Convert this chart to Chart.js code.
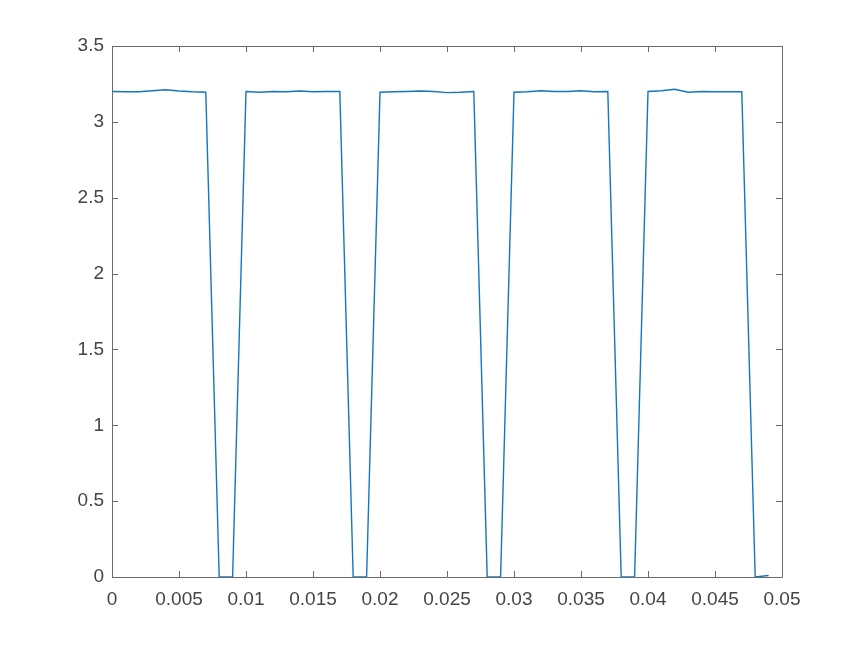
<!DOCTYPE html>
<html lang="en">
<head>
  <meta charset="UTF-8" />
  <title>Signal</title>
  <script src="https://cdn.jsdelivr.net/npm/chart.js@4.4.0/dist/chart.umd.min.js"></script>
  <style>
    html, body { margin: 0; padding: 0; background: #fff; }
    #wrap { width: 865px; height: 649px; }
  </style>
</head>
<body>
  <div id="wrap"><canvas id="myChart"></canvas></div>

  <script>
    // time samples (s)
    const times = [
      0, 0.001, 0.002, 0.003, 0.004, 0.005, 0.006, 0.007, 0.008, 0.009,
      0.010, 0.011, 0.012, 0.013, 0.014, 0.015, 0.016, 0.017, 0.018, 0.019,
      0.020, 0.021, 0.022, 0.023, 0.024, 0.025, 0.026, 0.027, 0.028, 0.029,
      0.030, 0.031, 0.032, 0.033, 0.034, 0.035, 0.036, 0.037, 0.038, 0.039,
      0.040, 0.041, 0.042, 0.043, 0.044, 0.045, 0.046, 0.047, 0.048, 0.049
    ];
    // signal values
    const values = [
      3.200, 3.198, 3.198, 3.205, 3.212, 3.203, 3.198, 3.195, 0, 0,
      3.200, 3.195, 3.200, 3.198, 3.203, 3.198, 3.200, 3.200, 0, 0,
      3.195, 3.198, 3.200, 3.203, 3.200, 3.193, 3.195, 3.200, 0, 0,
      3.195, 3.198, 3.205, 3.200, 3.200, 3.205, 3.198, 3.200, 0, 0,
      3.200, 3.205, 3.215, 3.195, 3.200, 3.198, 3.198, 3.198, 0, 0.01
    ];
    const xTicks = [0, 0.005, 0.01, 0.015, 0.02, 0.025, 0.03, 0.035, 0.04, 0.045, 0.05];
    const yTicks = [0, 0.5, 1, 1.5, 2, 2.5, 3, 3.5];

    const axisColor = '#6b6b6b';
    const textColor = '#454545';

    // box around plot + inward ticks on all four sides
    const boxPlugin = {
      id: 'box',
      afterDraw(chart) {
        const { ctx, chartArea: a, scales } = chart;
        ctx.save();
        ctx.strokeStyle = axisColor;
        ctx.lineWidth = 1;
        ctx.beginPath();
        ctx.rect(a.left + 0.5, a.top + 0.5, a.right - a.left, a.bottom - a.top);
        ctx.stroke();
        ctx.beginPath();
        const len = 6;
        xTicks.forEach(v => {
          const px = Math.round(scales.x.getPixelForValue(v)) + 0.5;
          ctx.moveTo(px, a.bottom); ctx.lineTo(px, a.bottom - len);
          ctx.moveTo(px, a.top); ctx.lineTo(px, a.top + len);
        });
        yTicks.forEach(v => {
          const py = Math.round(scales.y.getPixelForValue(v)) + 0.5;
          ctx.moveTo(a.left, py); ctx.lineTo(a.left + len, py);
          ctx.moveTo(a.right, py); ctx.lineTo(a.right - len, py);
        });
        ctx.stroke();
        ctx.restore();
      }
    };

    const points = times.map((t, i) => ({ x: t, y: values[i] }));

    new Chart(document.getElementById('myChart'), {
      type: 'line',
      data: {
        datasets: [{
          data: points,
          borderColor: 'rgb(20, 118, 190)',
          borderWidth: 1.4,
          pointRadius: 0,
          tension: 0,
          fill: false
        }]
      },
      options: {
        responsive: true,
        maintainAspectRatio: false,
        animation: false,
        layout: { padding: { top: 46, right: 83, left: 0, bottom: 0 } },
        plugins: { legend: { display: false }, tooltip: { enabled: false } },
        scales: {
          x: {
            type: 'linear',
            min: 0,
            max: 0.05,
            afterBuildTicks: s => { s.ticks = xTicks.map(v => ({ value: v })); },
            afterFit: s => { s.height = 72; },
            grid: { display: false },
            border: { display: false },
            ticks: {
              color: textColor,
              padding: 3,
              maxRotation: 0,
              font: { family: 'Liberation Sans, Arial, sans-serif', size: 19 },
              callback: v => String(+v.toFixed(3))
            }
          },
          y: {
            type: 'linear',
            min: 0,
            max: 3.5,
            afterBuildTicks: s => { s.ticks = yTicks.map(v => ({ value: v })); },
            afterFit: s => { s.width = 112; },
            grid: { display: false },
            border: { display: false },
            ticks: {
              color: textColor,
              padding: 0,
              font: { family: 'Liberation Sans, Arial, sans-serif', size: 19 },
              callback: v => String(v)
            }
          }
        }
      },
      plugins: [boxPlugin]
    });
  </script>
</body>
</html>
